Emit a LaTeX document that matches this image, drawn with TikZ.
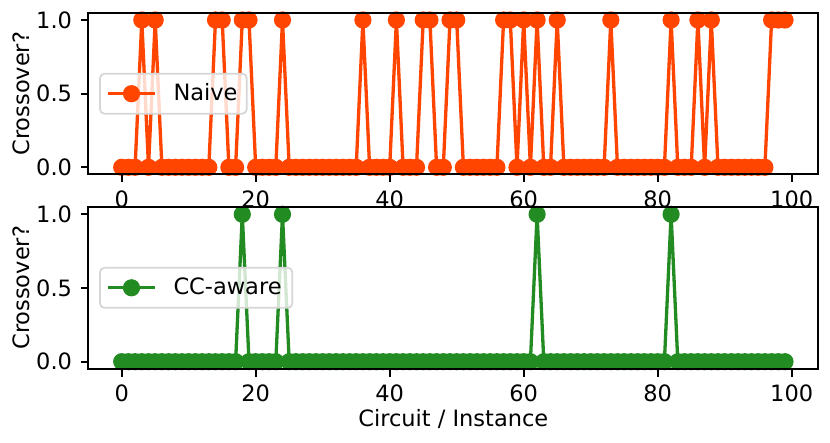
\documentclass[tikz,border=0pt]{standalone}
\usepackage{fontspec}
\setmainfont{DejaVu Sans}
\definecolor{naive}{RGB}{255,69,0}
\definecolor{ccaware}{RGB}{34,139,34}
\definecolor{legedge}{RGB}{214,214,214}
\begin{document}
\begin{tikzpicture}[x=1pt,y=-1pt,font=\fontsize{22.5}{27}\selectfont,
  spinestyle/.style={line width=1.76pt,black},
  tickstyle/.style={line width=1.76pt,black},
  datal/.style={line width=3.3pt,line join=round},
  ticklab/.style={inner sep=0pt},
  legbox/.style={draw=legedge,line width=1.76pt,fill=white,fill opacity=0.8,rounded corners=4.4pt},
  leglab/.style={inner sep=0pt,anchor=base west}]
\useasboundingbox[fill=white] (0,0) rectangle (830,443);
\def\mrad{8.6}
\def\naivedata{0,0,0,1,0,1,0,0,0,0,
0,0,0,0,1,1,0,0,1,1,
0,0,0,0,1,0,0,0,0,0,
0,0,0,0,0,0,1,0,0,0,
0,1,0,0,0,1,1,0,0,1,
1,0,0,0,0,0,0,1,1,0,
1,0,1,0,0,1,0,0,0,0,
0,0,0,1,0,0,0,0,0,0,
0,0,1,0,0,0,1,0,1,0,
0,0,0,0,0,0,0,1,1,1}
\def\ccdata{0,0,0,0,0,0,0,0,0,0,
0,0,0,0,0,0,0,0,1,0,
0,0,0,0,1,0,0,0,0,0,
0,0,0,0,0,0,0,0,0,0,
0,0,0,0,0,0,0,0,0,0,
0,0,0,0,0,0,0,0,0,0,
0,0,1,0,0,0,0,0,0,0,
0,0,0,0,0,0,0,0,0,0,
0,0,1,0,0,0,0,0,0,0,
0,0,0,0,0,0,0,0,0,0}
% data coordinates
\foreach \v [count=\i from 0] in \naivedata {
  \coordinate (n\i) at ({121.7+6.7*\i},{167.3-147.3*\v});
}
\foreach \v [count=\i from 0] in \ccdata {
  \coordinate (c\i) at ({121.7+6.7*\i},{361.7-147.4*\v});
}
% top panel data
\draw[datal,naive] (n0) \foreach \i in {1,...,99} {-- (n\i)};
\foreach \i in {0,...,99} \fill[naive] (n\i) circle (\mrad);
% bottom panel data
\draw[datal,ccaware] (c0) \foreach \i in {1,...,99} {-- (c\i)};
\foreach \i in {0,...,99} \fill[ccaware] (c\i) circle (\mrad);
% spines
\draw[spinestyle] (88.3,13.3) rectangle (818.3,174.3);
\draw[spinestyle] (88.3,206.7) rectangle (818.3,369);
% x ticks
\foreach \t in {0,20,40,60,80,100} {
  \draw[tickstyle] ({121.7+6.7*\t},174.3) -- ++(0,7.7) node[ticklab,anchor=north,yshift=-7.7pt] (xa\t) {\t};
  \draw[tickstyle] ({121.7+6.7*\t},369) -- ++(0,7.7) node[ticklab,anchor=north,yshift=-7.7pt] (xb\t) {\t};
}
% y ticks
\foreach \v/\l [count=\k] in {0/0.0,0.5/0.5,1/1.0} {
  \draw[tickstyle] (88.3,{167.3-147.3*\v}) -- ++(-7.7,0) node[ticklab,anchor=east,xshift=-7.7pt] (ya\k) {\l};
  \draw[tickstyle] (88.3,{361.7-147.4*\v}) -- ++(-7.7,0) node[ticklab,anchor=east,xshift=-7.7pt] (yb\k) {\l};
}
% axis labels
\node[inner sep=0pt,rotate=90] (ylaba) at (21.3,93.8) {Crossover?};
\node[inner sep=0pt,rotate=90] (ylabb) at (21.3,287.8) {Crossover?};
\node[inner sep=0pt,anchor=base] (xlab) at (453.3,426) {Circuit / Instance};
% legends
\draw[legbox] (100,73.7) rectangle (246.7,113.7);
\coordinate (la1) at (108,93.7);
\coordinate (la2) at (155,93.7);
\draw[datal,naive] (la1) -- (la2);
\fill[naive] (131.5,93.7) circle (\mrad);
\node[leglab] (lega) at (173.3,100.2) {Naive};
\draw[legbox] (100,267.8) rectangle (292.3,307.8);
\coordinate (lb1) at (108,287.8);
\coordinate (lb2) at (155,287.8);
\draw[datal,ccaware] (lb1) -- (lb2);
\fill[ccaware] (131.5,287.8) circle (\mrad);
\node[leglab] (legb) at (173.3,294.3) {CC-aware};
\end{tikzpicture}
\end{document}
